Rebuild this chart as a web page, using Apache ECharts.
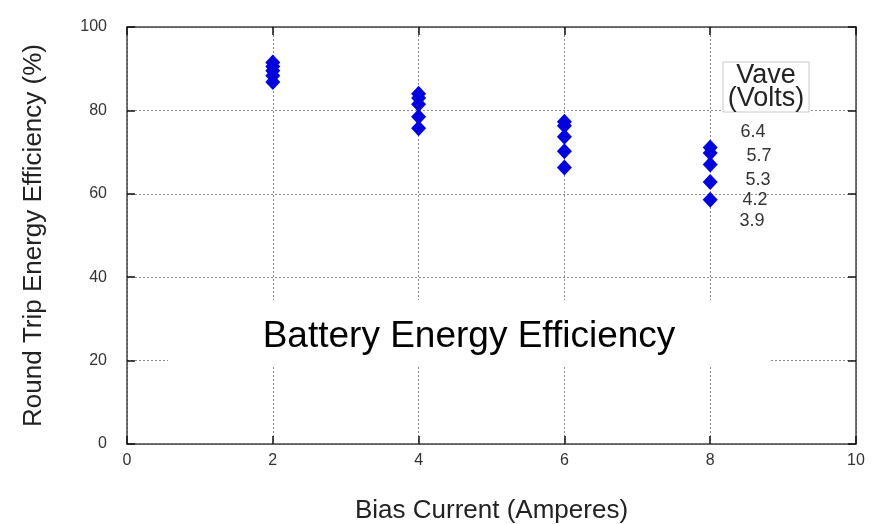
<!DOCTYPE html>
<html>
<head>
<meta charset="utf-8">
<script src="https://cdn.jsdelivr.net/npm/echarts@6/dist/echarts.min.js"></script>
<style>html,body{margin:0;padding:0;background:#fff;}#c{width:876px;height:524px;}</style>
</head>
<body>
<div id="c"></div>
<script>
// Data
const biasCurrent = [2, 4, 6, 8];
const voltages = ['6.4', '5.7', '5.3', '4.2', '3.9'];
const eff_6_4 = [91.5, 84.0, 77.3, 71.1];
const eff_5_7 = [90.5, 83.0, 76.3, 69.8];
const eff_5_3 = [89.5, 81.5, 73.7, 67.0];
const eff_4_2 = [88.3, 78.5, 70.2, 62.8];
const eff_3_9 = [86.8, 75.7, 66.3, 58.6];
const seriesValues = [eff_6_4, eff_5_7, eff_5_3, eff_4_2, eff_3_9];
const xTicks = [0, 2, 4, 6, 8, 10];
const yTicks = [0, 20, 40, 60, 80, 100];
const chartTitle = 'Battery Energy Efficiency';
const legendTitle = ['Vave', '(Volts)'];

const chart = echarts.init(document.getElementById('c'));
const FONT = 'Liberation Sans, Arial, sans-serif';
const axisLine = {show: true, onZero: false, lineStyle: {color: '#444', width: 1.5}};
const splitLine = {show: true, lineStyle: {color: '#8a8a8a', type: [2, 2], width: 1}};
const tick = {show: true, inside: true, length: 8, lineStyle: {color: '#111', width: 1.5}};

const labelPos = [[753, 132], [759, 156], [758, 180], [755, 200], [752, 221]];

const graphics = [
  {type: 'rect', z: 100, shape: {x: 168, y: 300, width: 602, height: 67}, style: {fill: '#fff'}},
  {type: 'text', z: 101, x: 469, y: 337, style: {text: chartTitle, font: '37px ' + FONT, fill: '#000', textAlign: 'center', textVerticalAlign: 'middle'}},
  {type: 'rect', z: 100, shape: {x: 723, y: 62, width: 86, height: 50}, style: {fill: '#fff', stroke: '#c8c8c8', lineWidth: 1}},
  {type: 'text', z: 101, x: 766, y: 76, style: {text: legendTitle[0], font: '27px ' + FONT, fill: '#222', textAlign: 'center', textVerticalAlign: 'middle'}},
  {type: 'text', z: 101, x: 766, y: 99, style: {text: legendTitle[1], font: '27px ' + FONT, fill: '#222', textAlign: 'center', textVerticalAlign: 'middle'}}
];
voltages.forEach((v, i) => {
  graphics.push({type: 'text', z: 101, x: labelPos[i][0], y: labelPos[i][1], style: {text: v, font: '18px ' + FONT, fill: '#333', textAlign: 'center', textVerticalAlign: 'middle'}});
});

const option = {
  animation: false,
  backgroundColor: '#fff',
  grid: {left: 127, right: 20, top: 27, bottom: 80, containLabel: false, outerBoundsMode: 'none'},
  xAxis: [
    {type: 'value', position: 'bottom', min: xTicks[0], max: xTicks[xTicks.length - 1], interval: 2,
     name: 'Bias Current (Amperes)', nameLocation: 'middle', nameGap: 54,
     nameTextStyle: {fontFamily: FONT, fontSize: 26, color: '#222'},
     axisLine: axisLine, axisTick: tick,
     axisLabel: {fontFamily: FONT, fontSize: 16, color: '#333', margin: 9},
     splitLine: splitLine},
    {type: 'value', position: 'top', min: xTicks[0], max: xTicks[xTicks.length - 1], interval: 2,
     axisLine: axisLine, axisTick: tick,
     axisLabel: {show: false}, splitLine: {show: false}}
  ],
  yAxis: [
    {type: 'value', position: 'left', min: yTicks[0], max: yTicks[yTicks.length - 1], interval: 20,
     name: 'Round Trip Energy Efficiency (%)', nameLocation: 'middle', nameGap: 80, nameRotate: 90,
     nameTextStyle: {fontFamily: FONT, fontSize: 26, color: '#222'},
     axisLine: axisLine, axisTick: tick,
     axisLabel: {fontFamily: FONT, fontSize: 16, color: '#333', margin: 20},
     splitLine: splitLine},
    {type: 'value', position: 'right', min: yTicks[0], max: yTicks[yTicks.length - 1], interval: 20,
     axisLine: axisLine, axisTick: tick,
     axisLabel: {show: false}, splitLine: {show: false}}
  ],
  series: voltages.map((v, i) => ({
    name: v, type: 'scatter', symbol: 'diamond', symbolSize: [15, 16],
    itemStyle: {color: '#0000dd', opacity: 1}, z: 5,
    data: biasCurrent.map((x, j) => [x, seriesValues[i][j]])
  })),
  graphic: graphics
};
chart.setOption(option);
</script>
</body>
</html>
